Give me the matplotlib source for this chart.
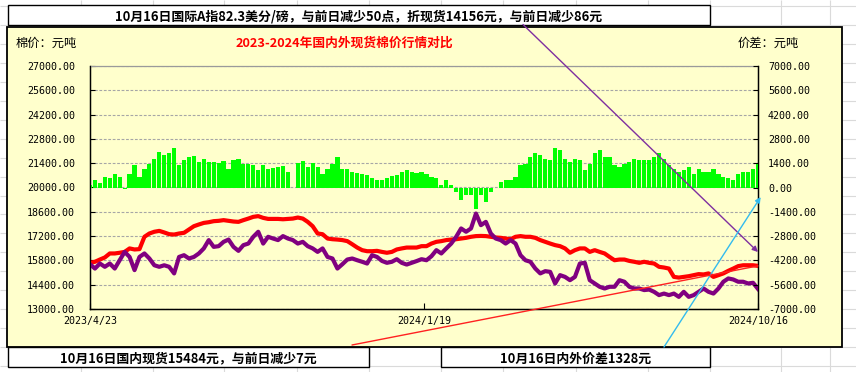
import matplotlib
matplotlib.use('Agg')
import matplotlib.pyplot as plt
from matplotlib.patches import Rectangle
import numpy as np

plt.rcParams['font.family'] = ['Noto Sans CJK SC', 'DejaVu Sans']

# ---------------- data ----------------
# domestic spot price (yuan/ton), left axis
dom = [15660, 15720, 15850, 15970, 16200, 16200, 16240, 16290, 16490, 16430,
       16450, 17160, 17350, 17450, 17500, 17410, 17310, 17290, 17350, 17390,
       17580, 17770, 17870, 17960, 18000, 18060, 18080, 18120, 18080, 18040,
       18020, 18120, 18210, 18310, 18350, 18250, 18190, 18190, 18190, 18170,
       18190, 18210, 18270, 18210, 18020, 17770, 17350, 17310, 17060, 17020,
       17000, 16970, 16910, 16730, 16540, 16390, 16330, 16330, 16350, 16290,
       16240, 16290, 16430, 16490, 16540, 16540, 16540, 16620, 16620, 16770,
       16870, 16910, 16970, 17000, 17020, 17060, 17100, 17160, 17200, 17210,
       17200, 17160, 17120, 17100, 17060, 17020, 17160, 17200, 17160, 17160,
       17100, 16970, 16870, 16770, 16680, 16620, 16490, 16240, 16390, 16490,
       16490, 16290, 16390, 16290, 16200, 16000, 15810, 15850, 15850, 15770,
       15720, 15660, 15720, 15660, 15620, 15430, 15390, 15330, 14850, 14810,
       14850, 14890, 14950, 15010, 14990, 15050, 14850, 14950, 15050, 15200,
       15330, 15470, 15520, 15520, 15520, 15484]
# international (Cotlook A converted) price, left axis
intl = [15580, 15330, 15620, 15430, 15620, 15330, 15810, 16290, 16000, 15240,
        16000, 16200, 15910, 15520, 15430, 15520, 15430, 15050, 16000, 16100,
        15910, 16000, 16200, 16490, 16970, 16580, 16620, 16870, 17000, 16580,
        16350, 16680, 16770, 17160, 17450, 16770, 17160, 17060, 16970, 17200,
        17060, 16970, 16770, 16870, 16620, 16490, 16290, 16490, 16000, 15910,
        15330, 15580, 15850, 15910, 15810, 15720, 15620, 16100, 16000, 15770,
        15660, 15720, 15870, 15660, 15560, 15660, 15760, 15870, 15810, 16040,
        16390, 16200, 16490, 16770, 17160, 17640, 17450, 17640, 18500, 17830,
        18020, 17350, 17060, 16970, 16770, 16970, 16770, 16100, 15810, 15720,
        15330, 15050, 15180, 15140, 14470, 14950, 14850, 14660, 14850, 15620,
        15660, 14660, 14470, 14280, 14180, 14280, 14280, 14660, 14570, 14280,
        14180, 14180, 14090, 14120, 13990, 13800, 13890, 13800, 13890, 13700,
        13990, 13700, 13800, 13990, 14180, 13990, 13890, 14180, 14570, 14760,
        14700, 14570, 14570, 14470, 14510, 14156]
# price difference (yuan/ton), right axis
diff = [130, 460, 270, 610, 520, 800, 610, -60, 800, 1290,
        610, 1090, 1380, 1670, 2050, 1860, 1960, 2250, 1290, 1570,
        1770, 1800, 1480, 1670, 1480, 1480, 1420, 1530, 1090, 1570,
        1670, 1340, 1380, 1290, 1000, 1290, 1090, 1150, 1190, 1230,
        900, 0, 1420, 1520, 1190, 1420, 1190, 800, 1040, 1380,
        1770, 1090, 1040, 900, 840, 800, 710, 570, 420, 460,
        570, 650, 710, 900, 1000, 900, 840, 900, 800, 610,
        520, 130, 420, 130, -250, -730, -440, -440, -1210, -440,
        -830, -250, -20, 330, 420, 460, 610, 1290, 1380, 1770,
        2000, 1860, 1670, 1570, 2300, 2150, 1670, 1480, 1670, 1570,
        1000, 1380, 1960, 2150, 1770, 1770, 1290, 1190, 1380, 1480,
        1670, 1570, 1570, 1570, 1770, 1960, 1670, 1290, 1090, 900,
        1000, 1190, 800, 1090, 900, 900, 1090, 800, 610, 520,
        420, 800, 900, 900, 1090, 1328]

xtick_labels = ['2023/4/23', '2024/1/19', '2024/10/16']
left_ticks = list(range(13000, 27001, 1400))
right_ticks = list(range(-7000, 7001, 1400))
title = '2023-2024年国内外现货棉价行情对比'
top_note = '10月16日国际A指82.3美分/磅，与前日减少50点，折现货14156元，与前日减少86元'
note_dom = '10月16日国内现货15484元，与前日减少7元'
note_diff = '10月16日内外价差1328元'
left_label = '棉价：元吨'
right_label = '价差：元吨'

# ---------------- figure ----------------
W, H = 856, 372
fig = plt.figure(figsize=(W / 100, H / 100), dpi=100)
fig.patch.set_facecolor('white')

bg = fig.add_axes([0, 0, 1, 1])
bg.set_xlim(0, W)
bg.set_ylim(H, 0)
bg.axis('off')

# spreadsheet cell lines
rows = [6 + 18.95 * k for k in range(20)]
cols = [81, 153, 224, 297, 369, 441, 503, 576, 648, 710, 781, 830]
bg.hlines(rows, 0, W, color='#DADADA', lw=0.8, zorder=0)
bg.vlines(cols, 0, H, color='#DADADA', lw=0.8, zorder=0)

# chart area
bg.add_patch(Rectangle((7, 27), 835, 320, facecolor='#FFFFCC',
                       edgecolor='black', lw=1.3, zorder=1))
# text boxes
for (x0, y0, x1, y1) in [(8, 5, 710, 24.5), (8, 347, 369, 366.5), (441, 347, 710, 366.5)]:
    bg.add_patch(Rectangle((x0, y0), x1 - x0, y1 - y0, facecolor='white',
                           edgecolor='black', lw=1.0, zorder=2))

bg.text(359, 16.5, top_note, ha='center', va='center', fontsize=9.3,
        weight='bold', zorder=3)
bg.text(188.5, 358.5, note_dom, ha='center', va='center', fontsize=9.3,
        weight='bold', zorder=3)
bg.text(575.5, 358.5, note_diff, ha='center', va='center', fontsize=9.3,
        weight='bold', zorder=3)
bg.text(16, 43, left_label, ha='left', va='center', fontsize=8.8, zorder=3)
bg.text(738, 43, right_label, ha='left', va='center', fontsize=8.8, zorder=3)
bg.text(344, 43, title, ha='center', va='center', fontsize=9.2, color='#FF0000',
        weight='bold', zorder=3)

# main plot
ax = fig.add_axes([90 / W, (H - 309) / H, 668 / W, 243 / H])
ax.set_facecolor('#FFFFCC')
x = np.arange(len(dom))
ax.plot(x, dom, color='#FF0000', lw=3.0, zorder=3)
ax.plot(x, intl, color='#800080', lw=3.0, zorder=4)
ax.set_xlim(0, len(dom) - 1)
ax.set_ylim(left_ticks[0], left_ticks[-1])
ax.set_yticks(left_ticks)
ax.set_yticklabels([f'{v:.2f}' for v in left_ticks], family='DejaVu Sans Mono',
                   fontsize=7.2)
ax.set_xticks([0, (len(dom) - 1) / 2, len(dom) - 1])
ax.set_xticklabels(xtick_labels, family='DejaVu Sans Mono', fontsize=7.2)
ax.tick_params(axis='y', direction='in', length=3.6, width=0.8, pad=10.8)
ax.tick_params(axis='x', direction='in', length=4.3, width=0.8, pad=5)
ax.grid(axis='y', color='#A6A6A6', ls=(0, (2.5, 1.5)), lw=0.8)
ax.set_axisbelow(True)
for s in ['left', 'right', 'bottom']:
    ax.spines[s].set_color('black')
    ax.spines[s].set_linewidth(1.0)
ax.spines['top'].set_color('#9A9A9A')
ax.spines['top'].set_linewidth(0.9)

ax2 = ax.twinx()
ax2.bar(x, diff, width=0.85, color='#00FF00', linewidth=0, zorder=2)
ax2.set_ylim(right_ticks[0], right_ticks[-1])
ax2.set_yticks(right_ticks)
ax2.set_yticklabels([f'{v:.2f}' for v in right_ticks], family='DejaVu Sans Mono',
                    fontsize=7.2)
ax2.tick_params(axis='y', direction='in', length=3.6, width=0.8, pad=7.2)
ax2.spines['right'].set_color('black')
ax2.spines['top'].set_visible(False)

# callout lines
ax2.annotate('', xy=(1.0, (309 - 252) / 243), xycoords='axes fraction',
             xytext=(523, H - 24.5), textcoords='figure pixels',
             arrowprops=dict(arrowstyle='-|>', color='#7F2F9F', lw=1.0,
                             shrinkA=0, shrinkB=0, mutation_scale=8),
             annotation_clip=False)
ax2.annotate('', xy=(1.004, (309 - 197) / 243), xycoords='axes fraction',
             xytext=(664, H - 347), textcoords='figure pixels',
             arrowprops=dict(arrowstyle='-|>', color='#33BBEE', lw=1.0,
                             shrinkA=0, shrinkB=0, mutation_scale=8),
             annotation_clip=False)
ax2.annotate('', xy=(len(dom) - 1, dom[-1]), xycoords=ax.transData,
             xytext=(352, H - 345), textcoords='figure pixels',
             arrowprops=dict(arrowstyle='-', color='#FF2020', lw=1.0,
                             shrinkA=0, shrinkB=0),
             annotation_clip=False)

fig.savefig('out.png', dpi=100)
